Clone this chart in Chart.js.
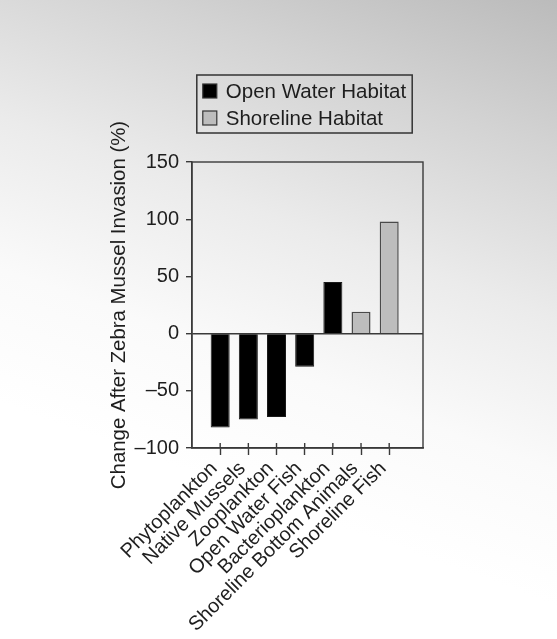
<!DOCTYPE html>
<html>
<head>
<meta charset="utf-8">
<script src="https://cdn.jsdelivr.net/npm/chart.js@4/dist/chart.umd.min.js"></script>
<style>
  html, body { margin: 0; padding: 0; overflow: hidden; }
  body {
    width: 557px; height: 639px;
    background: linear-gradient(200deg, #bbbbbb 0%, #d3d3d3 18%, #ebebeb 38%, #fafafa 56%, #ffffff 72%);
  }
  #c { display: block; }
</style>
</head>
<body>
<canvas id="c" width="557" height="639" style="width:557px;height:639px"></canvas>
<script>
const categories = ['Phytoplankton', 'Native Mussels', 'Zooplankton', 'Open Water Fish',
                    'Bacterioplankton', 'Shoreline Bottom Animals', 'Shoreline Fish'];
const openWater = [-82, -75, -73, -29, 45, null, null];
const shoreline = [null, null, null, null, null, 19, 98];
const seriesNames = ['Open Water Habitat', 'Shoreline Habitat'];
const yTicks = [-100, -50, 0, 50, 100, 150];
const yTitle = 'Change After Zebra Mussel Invasion (%)';

const FONT = "'Liberation Sans', Arial, Helvetica, sans-serif";
const INK = '#1e1e1e';

function toPoints(arr) {
  return arr.map((v, i) => ({ x: i + 1, y: v })).filter(p => p.y !== null);
}

const framePlugin = {
  id: 'frameAndLegend',
  afterDraw(chart) {
    const ctx = chart.ctx;
    const a = chart.chartArea;
    const xs = chart.scales.x;
    ctx.save();
    // frame
    ctx.strokeStyle = '#3a3a3a';
    ctx.lineWidth = 1.4;
    ctx.strokeRect(a.left, a.top, a.right - a.left, a.bottom - a.top);
    // inner part of x tick marks
    ctx.beginPath();
    xs.ticks.forEach((t, i) => {
      const px = xs.getPixelForTick(i);
      ctx.moveTo(px, a.bottom - 5);
      ctx.lineTo(px, a.bottom);
    });
    ctx.stroke();

    // legend box
    ctx.font = '20.5px ' + FONT;
    const ds = chart.data.datasets;
    let maxW = 0;
    ds.forEach(d => { maxW = Math.max(maxW, ctx.measureText(d.label).width); });
    const sq = 14, padL = 6, gap = 9, padR = 6;
    const boxW = padL + sq + gap + maxW + padR;
    const boxH = 58;
    const cx = (a.left + a.right) / 2 - 3;
    const bx = cx - boxW / 2;
    const by = a.top - 87;
    ctx.lineWidth = 1.5;
    ctx.strokeStyle = '#333';
    ctx.strokeRect(bx, by, boxW, boxH);
    ds.forEach((d, i) => {
      const rowY = by + 16 + i * 27;
      ctx.fillStyle = d.backgroundColor;
      ctx.fillRect(bx + padL, rowY - sq / 2, sq, sq);
      ctx.lineWidth = 1.2;
      ctx.strokeStyle = '#333';
      ctx.strokeRect(bx + padL, rowY - sq / 2, sq, sq);
      ctx.fillStyle = INK;
      ctx.textBaseline = 'middle';
      ctx.textAlign = 'left';
      ctx.fillText(d.label, bx + padL + sq + gap, rowY + 1);
    });
    ctx.restore();
  }
};

new Chart(document.getElementById('c'), {
  type: 'bar',
  data: {
    datasets: [
      {
        label: seriesNames[0],
        data: toPoints(openWater),
        backgroundColor: '#000000',
        borderColor: '#1a1a1a',
        borderWidth: 1,
        categoryPercentage: 1,
        barPercentage: 0.675
      },
      {
        label: seriesNames[1],
        data: toPoints(shoreline),
        backgroundColor: '#bdbdbd',
        borderColor: '#4a4a4a',
        borderWidth: 1.5,
        categoryPercentage: 1,
        barPercentage: 0.675
      }
    ]
  },
  options: {
    responsive: false,
    animation: false,
    devicePixelRatio: 1,
    layout: { padding: { left: 100, right: 134, top: 162, bottom: 0 } },
    plugins: {
      legend: { display: false },
      tooltip: { enabled: false },
      title: { display: false }
    },
    scales: {
      x: {
        type: 'linear',
        stacked: true,
        offset: false,
        min: 0,
        max: 8.2,
        afterBuildTicks(scale) {
          scale.ticks = categories.map((c, i) => ({ value: i + 1 }));
        },
        afterFit(scale) { scale.height = 191; },
        border: { display: true, color: '#3a3a3a', width: 1.4 },
        grid: { offset: false, drawOnChartArea: false, drawTicks: true, tickLength: 7, tickColor: '#3a3a3a', tickWidth: 1.4 },
        ticks: {
          autoSkip: false,
          minRotation: 45,
          maxRotation: 45,
          padding: 2,
          labelOffset: -6,
          color: INK,
          font: { family: FONT, size: 20 },
          callback: (v) => categories[Math.round(v) - 1]
        }
      },
      y: {
        min: -100,
        max: 150,
        afterBuildTicks(scale) {
          scale.ticks = yTicks.map(v => ({ value: v }));
        },
        afterFit(scale) { scale.width = 92; },
        border: { display: true, color: '#3a3a3a', width: 1.4 },
        grid: {
          drawOnChartArea: true,
          color: (c) => (c.tick && c.tick.value === 0) ? '#3a3a3a' : 'rgba(0,0,0,0)',
          lineWidth: 1.4,
          drawTicks: true,
          tickLength: 6,
          tickColor: '#3a3a3a',
          tickWidth: 1.4
        },
        ticks: {
          padding: 7,
          color: INK,
          font: { family: FONT, size: 20 },
          callback: (v) => v < 0 ? '\u2013' + Math.abs(v) : String(v)
        },
        title: {
          display: true,
          text: yTitle,
          color: INK,
          font: { family: FONT, size: 20.4 },
          padding: { top: 7, bottom: 0 }
        }
      }
    }
  },
  plugins: [framePlugin]
});
</script>
</body>
</html>
